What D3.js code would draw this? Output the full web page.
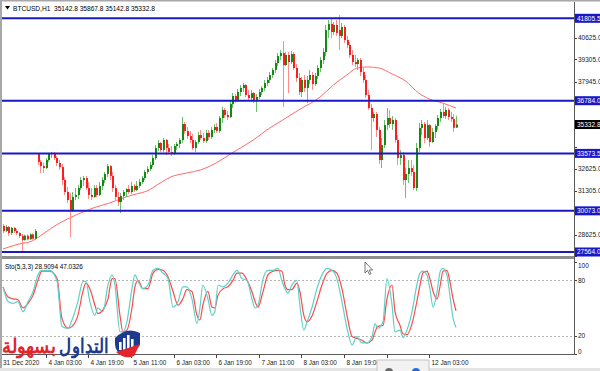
<!DOCTYPE html>
<html>
<head>
<meta charset="utf-8">
<script src="https://cdn.jsdelivr.net/npm/d3@7"></script>
<style>
    body { margin: 0; background: #fff; }
    svg text { font-family: "Liberation Sans", Arial, sans-serif; }
</style>
</head>
<body>
<div id="chart"></div>
<script>
// BTCUSD H1 candles, [open, high, low, close]
const candles = [
    [29150,29270,28720,28840],[28840,29210,28780,29090],[29090,29150,28540,28720],[28720,29090,28600,29030],
    [29030,29090,28720,28840],[28840,28970,28600,28720],[28720,28780,28420,28540],[28540,28660,27560,28300],
    [28300,28620,28250,28560],[28560,28640,28280,28340],[28340,28700,28300,28640],[28640,28690,28320,28380],
    [28380,28970,28300,28840],[33540,33600,32870,33050],[33050,33170,32380,32800],[32800,33000,32380,32680],
    [32680,33290,32620,33170],[33170,33600,33050,33540],[33540,33660,33290,33600],[33600,33660,33170,33290],
    [33290,33410,32800,32990],[32990,33170,32560,32740],[32740,32930,31650,31950],[31950,32130,31040,31220],
    [31220,31520,30550,30730],[30730,31160,28480,30120],[30120,31220,30000,30920],[30920,31460,30730,31040],
    [31040,31650,30790,31460],[31460,32130,31340,31950],[31950,32200,31590,32070],[32070,32200,31340,31460],
    [31460,31830,30790,31040],[31040,31460,30730,30920],[30920,31650,30860,31460],[31460,31650,30900,31040],
    [31040,31830,30980,31590],[31590,32130,31340,31950],[31950,32440,31770,32320],[32320,32930,32130,32800],
    [32800,32870,31950,32200],[32200,32440,31220,31460],[31460,31650,30730,30920],[30920,31220,30370,30610],
    [30610,31160,29940,30980],[30980,31340,30730,31220],[31220,31460,30920,31400],[31400,31650,31100,31220],
    [31220,31830,31100,31590],[31590,31710,31220,31340],[31340,31890,31280,31590],[31590,32010,31470,31830],
    [31830,32200,31710,32070],[32070,32560,31950,32440],[32440,32800,32320,32620],[32620,33050,32500,32870],
    [32870,33470,32740,33290],[33290,34080,33170,33900],[33900,34390,33720,34210],[34210,34270,33660,33780],
    [33780,34510,33660,34390],[34390,34450,33470,33900],[33900,34150,33540,33660],[33660,34020,33410,33600],
    [33600,34150,33470,34020],[34020,34270,33780,34150],[34150,34510,33900,34390],[34390,35790,34210,35360],
    [35360,35490,34760,34940],[34940,35180,34450,34630],[34630,34940,34210,34390],[34390,34760,33780,33900],
    [33900,34390,33660,34270],[34270,34880,34150,34690],[34690,35000,34390,34510],[34510,34820,34210,34330],
    [34330,35000,34210,34820],[34820,35000,34390,34570],[34570,35180,34450,35000],[35000,35360,34820,35180],
    [35180,35430,34820,34940],[34940,35850,34820,35730],[35730,36400,35430,36220],[36220,36340,35730,35910],
    [35910,36160,35610,35790],[35790,36830,35730,36580],[36580,37250,36340,37070],[37070,37190,36640,36830],
    [36830,37500,36700,37310],[37310,37740,37070,37560],[37560,37860,37310,37740],[37740,37800,37010,37130],
    [37130,37440,36830,36950],[36950,37440,36770,37250],[37250,37310,36640,36830],[36830,37190,36100,37010],
    [37010,37500,36890,37310],[37310,37680,37130,37560],[37560,38050,37370,37860],[37860,38230,37680,38050],
    [38050,38530,37860,38350],[38350,38780,38170,38660],[38660,39260,38470,39080],[39080,39690,38900,39510],
    [39510,39870,39260,39690],[39690,40420,36400,38960],[38960,39750,38900,39570],[39570,39750,37250,39140],
    [39140,39810,39020,39630],[39630,39750,38660,38780],[38780,39020,37920,38170],[38170,38470,37130,37310],
    [37310,38230,37010,38050],[38050,38350,37310,37560],[37560,38290,36640,38050],[38050,38660,37800,38350],
    [38350,38530,37440,37800],[37800,38470,37680,38290],[38290,38960,38110,38780],[38780,39450,38530,39260],
    [39260,39990,39020,39750],[39750,41400,39510,41090],[41090,41700,40600,41460],[41460,41760,40600,40970],
    [40970,41580,40790,41400],[41400,41700,40730,40910],[41090,42010,39870,40730],[40730,41520,40600,41280],
    [41280,41400,40300,40480],[40480,40730,39990,40180],[40180,40360,39390,39570],[39570,39870,38960,39140],
    [39140,39570,38840,39020],[39020,39390,38660,39260],[39260,39390,38290,38530],[38530,38780,37860,38050],
    [38050,38350,36950,37130],[37130,37440,36220,36340],[36340,36580,33780,35730],[35730,36100,35490,35970],
    [35970,36100,34570,35000],[35000,35180,32930,33170],[33170,34510,32680,34080],[34080,35610,33900,35300],
    [35300,36340,35000,35730],[35730,36220,35120,35360],[35360,35850,35000,35610],[35610,35730,34210,34390],
    [34390,34690,32870,33290],[33290,33780,32870,33470],[33470,33660,31650,31950],[31950,32680,30860,32320],
    [32320,33170,31770,32680],[32680,33170,32200,32440],[32440,32870,31340,31460],[31460,34210,31280,33900],
    [33900,35430,33660,35120],[35120,35610,34690,35360],[35360,35490,34210,34510],[34510,35610,34390,35300],
    [35300,35360,33960,34270],[34270,35120,34210,34880],[34880,35360,34510,35240],[35240,35910,35000,35730],
    [35730,36280,35490,36100],[36100,36580,35730,35850],[35850,36400,35670,36220],[36220,36340,35610,35790],
    [35790,36100,35490,35670],[35670,35970,34880,35140],[35142.8,35867.8,35142.8,35332.8]
];

// moving average, read at a few bars
const maBar = [0,6,11,15,20,25,30,35,40,45,50,54,59,63,69,74,80,86,95,99,105,111,119,124,129,133,137,141,146,151,156,160,165,170];
const maVal = [27750,28050,28240,28660,29210,29640,30000,30310,30550,30860,31100,31280,31770,32140,32380,32560,32990,33600,
               34510,35000,35610,36220,37010,37740,38350,38780,38840,38780,38410,37990,37250,36890,36640,36340];

// Stochastic (5,3,3): main (K) and signal (D)
const stochBar = [0,1.9,3.8,5.6,7.5,9.4,11.3,13.1,14.6,17.6,20.3,22.1,24.4,25.9,28.1,30,31.1,32.6,34.5,35.6,
    37.5,39.4,40.9,42,43.9,45,46.5,48.4,49.5,50.7,52.5,54.4,56.3,58.2,60,61.9,63.8,65.7,67.5,69,
    70.9,72.8,73.9,75,76.9,78.4,79.5,80.7,82.6,84.4,86.3,87.8,89.7,91.6,93.4,94.6,95.7,97.6,99.4,101.3,
    103.2,104.7,105.8,106.9,108.4,110.3,111.4,112.9,114.1,115.9,117.8,119.7,121.6,123.5,125.3,127.2,129.1,131,132.8,134.7,
    136.6,138.5,139.6,140.7,142.6,144.1,146,147.1,149,150.1,151.6,153.5,155.3,156.5,157.6,159.1,160.2,161.4,162.9,164.1,
    165.1,166.6,167.7,168.9,170];
const stochK = [73,57,55,57,46,57,68,86,91,91,79,30,28,37,57,79,79,57,42,50,
    46,75,86,75,24,24,35,71,86,79,71,75,91,93,88,82,51,57,73,73,
    60,33,50,75,60,42,46,75,73,77,86,91,82,80,60,50,53,82,91,91,
    93,79,71,66,75,80,53,26,35,50,71,86,93,91,82,57,28,10,19,12,
    12,19,33,28,35,82,53,24,26,18,26,46,75,88,90,86,71,51,68,90,
    93,86,64,39,28.9094];
const stochD = [73,62,60,59,50,55,64,80,90,90,82,39,28,30,42,68,77,71,53,44,
    48,60,82,82,42,24,26,50,73,80,71,71,88,92,91,84,68,53,60,70,
    68,42,37,53,68,51,50,64,71,73,80,88,88,80,68,57,51,68,86,90,
    91,90,75,70,70,77,68,42,35,41,57,75,88,91,88,71,42,19,17,15,
    12,15,24,30,31,60,75,46,31,22,21,33,57,75,88,90,82,68,60,75,
    90,91,79,60,47.0326];

const levels = [41805.5, 36784.0, 33573.5, 30073.0, 27564.0];
const lastPrice = 35332.8;
const priceTicks = [40625, 39305, 37945, 36625, 35265, 33945, 32625, 31305, 29945, 28625, 27305];
const stochLevels = [80, 20];
const stochTicks = [100, 80, 20, 0];
const timeBar = [0, 16, 32, 48, 64, 80, 96, 112, 128, 144, 160];
const timeLabels = ["31 Dec 2020", "4 Jan 03:00", "4 Jan 19:00", "5 Jan 11:00", "6 Jan 03:00", "6 Jan 19:00",
    "7 Jan 11:00", "8 Jan 03:00", "8 Jan 19:00", "11 Jan 11:00", "12 Jan 03:00"];

const W = 600, H = 371;
const right = 574;

const svg = d3.select('#chart').append('svg')
    .attr('width', W)
    .attr('height', H);

let x = d3.scaleLinear().domain([0, candles.length - 1]).range([3, 456]);
let y = d3.scaleLinear().domain([27564, 41805.5]).range([252, 18.3]);
let ys = d3.scaleLinear().domain([0, 100]).range([354, 262]);

svg.append('rect').attr('width', W).attr('height', H).attr('fill', '#fff');

let defs = svg.append('defs');
defs.append('clipPath').attr('id', 'main-clip')
    .append('rect').attr('x', 2).attr('y', 2).attr('width', right - 2).attr('height', 254);
defs.append('clipPath').attr('id', 'sto-clip')
    .append('rect').attr('x', 2).attr('y', 259).attr('width', right - 2).attr('height', 95);

// ---- main price panel
let main = svg.append('g').attr('clip-path', 'url(#main-clip)');

// moving average
main.append('path')
    .datum(d3.zip(maBar, maVal))
    .attr('fill', 'none')
    .attr('stroke', '#ff6a6a')
    .attr('stroke-width', 1)
    .attr('d', d3.line().x(d => x(d[0])).y(d => y(d[1])).curve(d3.curveMonotoneX));

// candles
let cg = main.selectAll('g.candle')
    .data(candles)
    .enter().append('g')
    .attr('class', 'candle');

cg.append('line')
    .attr('x1', (d, i) => Math.round(x(i)) + 0.5)
    .attr('x2', (d, i) => Math.round(x(i)) + 0.5)
    .attr('y1', d => y(d[1]))
    .attr('y2', d => y(d[2]))
    .attr('stroke', d => d[3] >= d[0] ? '#6cbf6c' : '#ff8c8c')
    .attr('stroke-width', 1);

cg.append('rect')
    .attr('x', (d, i) => Math.round(x(i)))
    .attr('width', 2)
    .attr('y', d => y(Math.max(d[0], d[3])))
    .attr('height', d => Math.max(1, Math.abs(y(d[0]) - y(d[3]))))
    .attr('fill', d => d[3] >= d[0] ? '#138a13' : '#ff1c1c');

// horizontal levels
main.selectAll('line.level')
    .data(levels)
    .enter().append('line')
    .attr('class', 'level')
    .attr('x1', 2).attr('x2', right)
    .attr('y1', d => y(d)).attr('y2', d => y(d))
    .attr('stroke', '#1818c8')
    .attr('stroke-width', 2);

// title
svg.append('path').attr('d', 'M5,6 L10,6 L7.5,9.5 Z').attr('fill', '#000');
svg.append('text')
    .attr('x', 13).attr('y', 10.5)
    .attr('font-size', 6.6)
    .attr('fill', '#000')
    .style('white-space', 'pre')
    .text('BTCUSD,H1  35142.8 35867.8 35142.8 35332.8');

// ---- price axis (labels hidden under a price tag are left out)
let tagged = levels.concat([lastPrice]);
priceTicks.forEach(function (p) {
    let hidden = tagged.some(t => Math.abs(y(t) - y(p)) < 8.5) || y(p) > 254;
    svg.append('line')
        .attr('x1', right).attr('x2', right + 3)
        .attr('y1', Math.round(y(p)) + 0.5).attr('y2', Math.round(y(p)) + 0.5)
        .attr('stroke', '#404040');
    if (!hidden) {
        svg.append('text')
            .attr('x', right + 4).attr('y', y(p) + 2.5)
            .attr('font-size', 6.5)
            .attr('fill', '#202020')
            .text(p.toFixed(1));
    }
});

let tag = function (p, fill) {
    svg.append('rect')
        .attr('x', right + 1).attr('y', y(p) - 4.5)
        .attr('width', W - right - 1).attr('height', 9)
        .attr('fill', fill);
    svg.append('text')
        .attr('x', right + 3).attr('y', y(p) + 2.4)
        .attr('font-size', 6.5)
        .attr('fill', '#fff')
        .text(p.toFixed(1));
};
levels.forEach(p => tag(p, '#1818c8'));
tag(lastPrice, '#000');

// ---- stochastic panel
let sto = svg.append('g').attr('clip-path', 'url(#sto-clip)');

sto.selectAll('line.stolevel')
    .data(stochLevels)
    .enter().append('line')
    .attr('x1', 2).attr('x2', right)
    .attr('y1', d => Math.round(ys(d)) + 0.5).attr('y2', d => Math.round(ys(d)) + 0.5)
    .attr('stroke', '#b4b4b4')
    .attr('stroke-dasharray', '2,2');

let stoLine = d3.line().x(d => x(d[0])).y(d => ys(d[1])).curve(d3.curveMonotoneX);

sto.append('path')
    .datum(d3.zip(stochBar, stochD))
    .attr('fill', 'none')
    .attr('stroke', '#ff4a4a')
    .attr('stroke-width', 1.2)
    .attr('d', stoLine);

sto.append('path')
    .datum(d3.zip(stochBar, stochK))
    .attr('fill', 'none')
    .attr('stroke', '#5fd0c8')
    .attr('stroke-width', 1.2)
    .attr('d', stoLine);

svg.append('text')
    .attr('x', 5).attr('y', 268.5)
    .attr('font-size', 6.4)
    .attr('fill', '#000')
    .text('Sto(5,3,3) 28.9094 47.0326');

stochTicks.forEach(function (v) {
    let ty = Math.min(Math.max(ys(v), 265), 351);
    svg.append('line')
        .attr('x1', right).attr('x2', right + 3)
        .attr('y1', Math.round(ys(v)) + 0.5).attr('y2', Math.round(ys(v)) + 0.5)
        .attr('stroke', '#404040');
    svg.append('text')
        .attr('x', right + 4).attr('y', ty + 2.5)
        .attr('font-size', 6.5)
        .attr('fill', '#202020')
        .text(v);
});

// ---- frame
svg.append('rect').attr('x', 0).attr('y', 0).attr('width', 2).attr('height', H).attr('fill', '#a8a8a8');
svg.append('rect').attr('x', 0).attr('y', 0).attr('width', W).attr('height', 1.5).attr('fill', '#a8a8a8');
svg.append('rect').attr('x', 2).attr('y', 256).attr('width', right - 2).attr('height', 3).attr('fill', '#8e8e8e');
svg.append('line')
    .attr('x1', right + 0.5).attr('x2', right + 0.5).attr('y1', 2).attr('y2', 355)
    .attr('stroke', '#5a5a5a');
svg.append('line')
    .attr('x1', 2).attr('x2', right + 1).attr('y1', 354.5).attr('y2', 354.5)
    .attr('stroke', '#5a5a5a');
svg.append('rect').attr('x', 0).attr('y', 368).attr('width', W).attr('height', 3).attr('fill', '#e4e4e4');

// ---- time axis
timeBar.forEach(function (b, i) {
    let tx = Math.round(x(b)) + 0.5;
    if (i > 0) {
        svg.append('line')
            .attr('x1', tx).attr('x2', tx).attr('y1', 355).attr('y2', 358)
            .attr('stroke', '#404040');
    }
    svg.append('text')
        .attr('x', i > 0 ? tx + 2 : 3).attr('y', 364.5)
        .attr('font-size', 6.4)
        .attr('fill', '#202020')
        .text(timeLabels[i]);
});

// floating toolbar at the bottom
svg.append('rect').attr('x', 377).attr('y', 360).attr('width', 52).attr('height', 12)
    .attr('fill', '#f2f2f2').attr('stroke', '#c4c4c4');
svg.append('circle').attr('cx', 389).attr('cy', 372).attr('r', 4).attr('fill', '#6a6a6a');
svg.append('circle').attr('cx', 416).attr('cy', 372).attr('r', 4).attr('fill', '#2a6ad8');

// mouse pointer
svg.append('path')
    .attr('d', 'M365,262 L365,273 L367.5,270.5 L369.5,274.5 L371,273.8 L369.2,270 L372.6,270 Z')
    .attr('fill', '#fff')
    .attr('stroke', '#505050')
    .attr('stroke-width', 0.8);

// ---- watermark logo
let logo = svg.append('g').style('font-family', '"DejaVu Sans", sans-serif');
logo.append('text')
    .attr('x', 2).attr('y', 353)
    .attr('font-size', 20)
    .attr('font-weight', 'bold')
    .attr('fill', '#e5232b')
    .attr('textLength', 54)
    .attr('lengthAdjust', 'spacingAndGlyphs')
    .text('بسهولة');
logo.append('text')
    .attr('x', 59).attr('y', 353)
    .attr('font-size', 20)
    .attr('font-weight', 'bold')
    .attr('fill', '#1c3a8e')
    .attr('textLength', 50)
    .attr('lengthAdjust', 'spacingAndGlyphs')
    .text('التداول');

logo.append('path')
    .attr('d', 'M115,338 Q127,326 140,333 L140,345 Q134,353 124,356 Q115,352 115,344 Z')
    .attr('fill', '#1c3a8e');
[[119, 342, 8], [123, 338, 12], [127, 335, 15], [131, 339, 11]].forEach(function (b) {
    logo.append('rect').attr('x', b[0]).attr('y', b[1]).attr('width', 2.6).attr('height', b[2]).attr('fill', '#fff');
});
logo.append('path')
    .attr('d', 'M116,352 L140,344 L134,356 Q125,360 116,352 Z')
    .attr('fill', '#e5232b');
</script>
</body>
</html>
